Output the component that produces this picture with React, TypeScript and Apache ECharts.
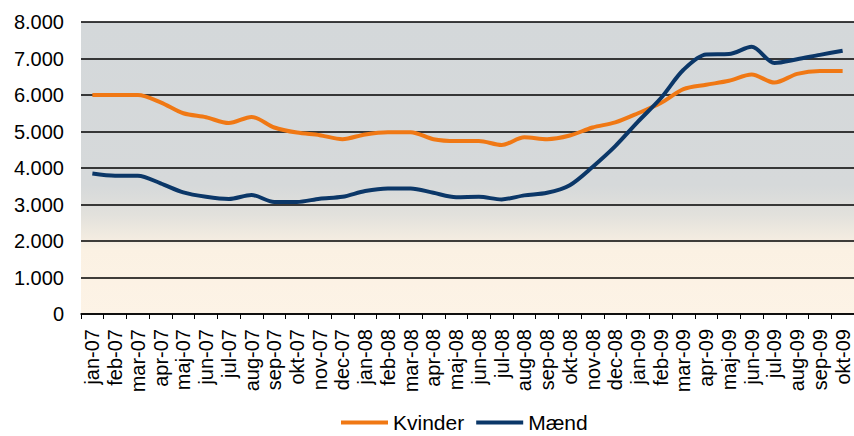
import React, { useEffect, useRef } from "react";
import * as echarts from "echarts";

const months = [
  "jan-07", "feb-07", "mar-07", "apr-07", "maj-07", "jun-07", "jul-07", "aug-07", "sep-07", "okt-07", "nov-07", "dec-07",
  "jan-08", "feb-08", "mar-08", "apr-08", "maj-08", "jun-08", "jul-08", "aug-08", "sep-08", "okt-08", "nov-08", "dec-08",
  "jan-09", "feb-09", "mar-09", "apr-09", "maj-09", "jun-09", "jul-09", "aug-09", "sep-09", "okt-09",
];

const kvinder = [
  6000, 6000, 6000, 5800, 5500, 5390, 5230, 5400, 5110, 4970, 4900, 4790,
  4920, 4980, 4980, 4790, 4740, 4740, 4630, 4840, 4790, 4890, 5110, 5250,
  5500, 5780, 6160, 6280, 6390, 6560, 6340, 6580, 6660, 6660,
];

const maend = [
  3850, 3790, 3790, 3580, 3330, 3210, 3150, 3260, 3070, 3070, 3160, 3210,
  3370, 3440, 3440, 3320, 3200, 3210, 3140, 3250, 3320, 3530, 4030, 4600,
  5270, 5910, 6690, 7110, 7120, 7320, 6880, 6980, 7100, 7210,
];

const seriesNames = ["Kvinder", "Mænd"];
const yTicks = { min: 0, max: 8000, interval: 1000 };

const fmt = (v: number) => String(v).replace(/\B(?=(\d{3})+(?!\d))/g, ".");

export default function App() {
  const ref = useRef<HTMLDivElement>(null);
  useEffect(() => {
    if (!ref.current) return;
    const chart = echarts.init(ref.current, undefined, { renderer: "svg" });
    const font = "'Liberation Sans', Arial, sans-serif";
    chart.setOption({
      animation: false,
      textStyle: { fontFamily: font },
      grid: {
        left: 81,
        top: 22,
        width: 774,
        height: 292,
        show: true,
        borderWidth: 0,
        backgroundColor: new echarts.graphic.LinearGradient(0, 0, 0, 1, [
          { offset: 0, color: "#D4D8DA" },
          { offset: 0.56, color: "#D6D9DA" },
          { offset: 0.66, color: "#E2E1DC" },
          { offset: 0.78, color: "#FBF1E3" },
          { offset: 1, color: "#FDF3E6" },
        ]),
      },
      legend: {
        data: seriesNames,
        top: 412,
        left: 341,
        padding: 0,
        itemWidth: 47,
        itemHeight: 14,
        itemGap: 12,
        icon: "path://M0,0 L47,0 L47,4 L0,4 Z",
        textStyle: { fontSize: 21, lineHeight: 21, color: "#000", fontFamily: font },
      },
      xAxis: {
        type: "category",
        data: months,
        boundaryGap: true,
        axisLine: { show: true, lineStyle: { color: "#000", width: 1.5 } },
        axisTick: { show: true, length: 5, lineStyle: { color: "#000", width: 1 } },
        axisLabel: { rotate: 90, interval: 0, margin: 15, fontSize: 20, color: "#000", fontFamily: font },
        splitLine: { show: false },
      },
      yAxis: {
        type: "value",
        min: yTicks.min,
        max: yTicks.max,
        interval: yTicks.interval,
        axisLine: { show: false },
        axisTick: { show: false },
        axisLabel: { margin: 17, fontSize: 20, color: "#000", fontFamily: font, formatter: (v: number) => fmt(v) },
        splitLine: { show: true, lineStyle: { color: "#000", width: 1.5 } },
      },
      series: [
        {
          name: seriesNames[0],
          type: "line",
          data: kvinder,
          smooth: 0.3,
          symbol: "none",
          lineStyle: { color: "#F07814", width: 4 },
          itemStyle: { color: "#F07814" },
        },
        {
          name: seriesNames[1],
          type: "line",
          data: maend,
          smooth: 0.3,
          symbol: "none",
          lineStyle: { color: "#0B3768", width: 4 },
          itemStyle: { color: "#0B3768" },
        },
      ],
    });
    return () => chart.dispose();
  }, []);
  return (
    <div
      ref={ref}
      style={{ position: "fixed", left: 0, top: 0, width: 854, height: 436, background: "#fff" }}
    />
  );
}
